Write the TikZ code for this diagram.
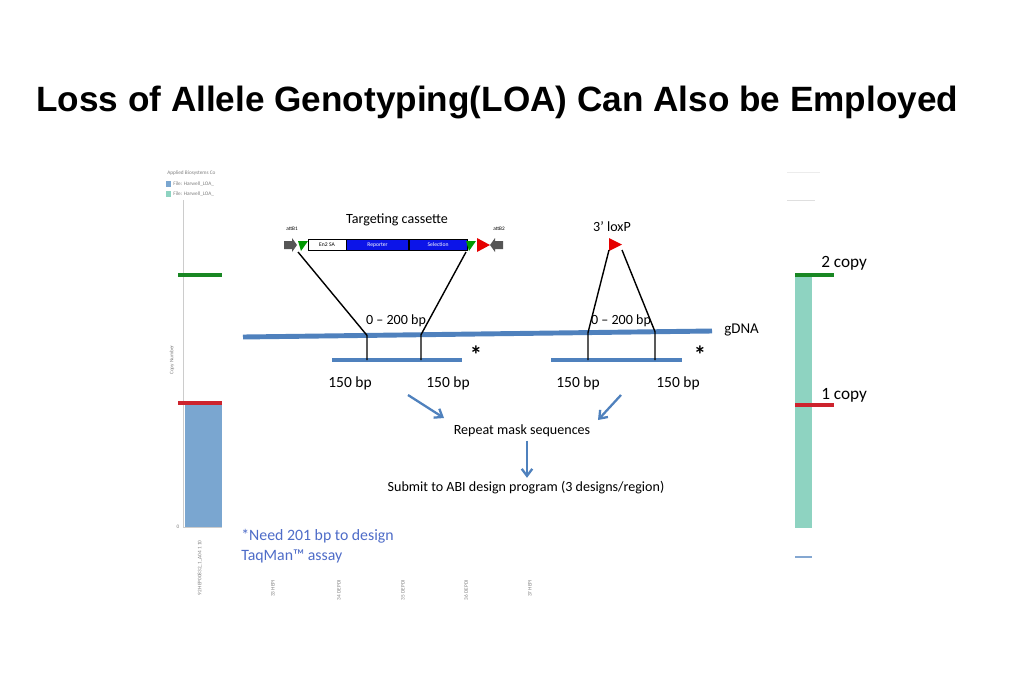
\documentclass[tikz,border=0pt]{standalone}
\usepackage{fontspec}
\setmainfont{Carlito}
\newfontfamily\titlefont{Liberation Sans}
\usetikzlibrary{arrows.meta}
\definecolor{dnablue}{RGB}{79,129,189}
\definecolor{cnvgreen}{RGB}{25,135,35}
\definecolor{cnvred}{RGB}{205,35,45}
\definecolor{barblue}{RGB}{122,166,208}
\definecolor{barteal}{RGB}{142,211,193}
\definecolor{noteblue}{RGB}{78,108,200}
\definecolor{cassblue}{RGB}{12,20,232}
\definecolor{attgray}{RGB}{85,85,85}

\begin{document}
\begin{tikzpicture}[x=0.2mm,y=-0.2mm,
  dna/.style={dnablue,line width=2.8pt},
  probe/.style={dnablue,line width=2.3pt},
  link/.style={black,line width=0.8pt},
  flow/.style={dnablue,line width=1.3pt,-{Straight Barb[length=4pt,width=6pt]}},
  lbl/.style={font=\fontsize{8}{9}\selectfont,inner sep=0pt},
  bplbl/.style={font=\fontsize{8.8}{10}\selectfont,inner sep=0pt},
  tiny/.style={font=\fontsize{3}{3.5}\selectfont,text=gray,inner sep=0pt},
  cassbox/.style={draw=black,line width=0.3pt,minimum height=2.2mm,inner sep=0pt,font=\fontsize{3.2}{3.5}\selectfont},
  copylbl/.style={font=\fontsize{9.8}{11}\selectfont,anchor=west,inner sep=0pt},
  notelbl/.style={anchor=west,inner sep=0pt,text=noteblue,font=\fontsize{9}{11}\selectfont}]
  \useasboundingbox[fill=white] (0,0) rectangle (1023,682);

  \node[anchor=west,inner sep=0pt,font=\titlefont\bfseries\fontsize{20}{24}\selectfont] (title) at (36,102)
    {Loss of Allele Genotyping(LOA) Can Also be Employed};

  % copy number chart behind the figure
  \node[tiny,anchor=west] (hdr) at (167,173) {Applied Biosystems Co};
  \fill[barblue] (166,181) rectangle (171,187);
  \fill[barteal] (166,191) rectangle (171,197);
  \node[tiny,anchor=west] (file1) at (173,184) {File: Harwell\_LOA\_};
  \node[tiny,anchor=west] (file2) at (173,194) {File: Harwell\_LOA\_};
  \draw[gray!40,line width=0.3pt] (183,200) -- (183,527) -- (222,527);
  \fill[barblue] (185,405) rectangle (222,527);
  \draw[cnvgreen,line width=2pt] (178,275) -- (222,275);
  \draw[cnvred,line width=2pt] (178,403) -- (222,403);
  \node[tiny] (zero) at (178,527) {0};
  \node[tiny,rotate=90] (ylab) at (172,360) {Copy Number};
  \node[tiny,rotate=90,anchor=east] (s92) at (200,540) {92 HEP00832\_1\_A04 1 10};
  \foreach \x/\t in {273/33 HEPI,339/34 DEPDI,403/35 DEPDI,466/36 DEPDI,530/37 HEPI}
    \node[tiny,rotate=90,anchor=east] at (\x,580) {\t};

  \fill[barteal] (795,277) rectangle (812,528);
  \draw[cnvgreen,line width=2pt] (795,275) -- (834,275);
  \draw[cnvred,line width=2pt] (795,405) -- (834,405);
  \draw[dnablue!70,line width=1pt] (795,557) -- (812,557);
  \draw[gray!15,line width=0.5pt] (787,172) -- (820,172);
  \draw[gray!25,line width=0.5pt] (787,200) -- (815,200);
  \node[copylbl] (two) at (821,263) {2 copy};
  \node[copylbl] (one) at (821,395) {1 copy};

  % targeting cassette
  \node[lbl] (cassette) at (397,220) {Targeting cassette};
  \node[tiny,text=black] (attb1) at (292,229) {attB1};
  \node[tiny,text=black] (attb2) at (499,229) {attB2};
  \fill[attgray] (284,241) rectangle (292,249) (292,238) -- (297,245) -- (292,252) -- cycle;
  \fill[green!60!black] (298,241) -- (308,241) -- (301,251) -- cycle;
  \node[cassbox,fill=white,minimum width=7.6mm] (en2) at (327,245) {En2 SA};
  \node[cassbox,fill=cassblue,text=white,minimum width=12.4mm,anchor=west] (rep) at (en2.east) {Reporter};
  \node[cassbox,fill=cassblue,text=white,minimum width=11.6mm,anchor=west] (sel) at (rep.east) {Selection};
  \fill[green!60!black] (466,241) -- (476,241) -- (469,251) -- cycle;
  \fill[red!90!black] (477,238) -- (490,245) -- (477,252) -- cycle;
  \fill[attgray] (495,241) rectangle (503,249) (495,238) -- (490,245) -- (495,252) -- cycle;

  % 3' loxP
  \node[lbl] (loxlbl) at (612,227) {3’ loxP};
  \fill[red!90!black] (609,238) -- (622,244.5) -- (609,251) -- cycle;

  % gDNA and flanking probes
  \coordinate (gw) at (243,337);
  \coordinate (ge) at (712,331);
  \draw[dna] (gw) -- (ge);
  \node[lbl,anchor=west,font=\fontsize{8.5}{10}\selectfont] (gdna) at (724,330) {gDNA};
  \draw[probe] (332,360) -- (462,360);
  \draw[probe] (551,360) -- (682,360);

  \coordinate (c1) at (298,252);
  \coordinate (c2) at (466,252);
  \coordinate (l1) at (609,250);
  \coordinate (l2) at (622,250);
  \coordinate (g1) at (367,335.4);
  \coordinate (g2) at (421,334.7);
  \coordinate (g3) at (588,332.6);
  \coordinate (g4) at (655,331.7);
  \coordinate (p1) at (367,360);
  \coordinate (p2) at (421,360);
  \coordinate (p3) at (588,360);
  \coordinate (p4) at (655,360);
  \draw[link] (c1) -- (g1) -- (p1);
  \draw[link] (c2) -- (g2) -- (p2);
  \draw[link] (l1) -- (g3) -- (p3);
  \draw[link] (l2) -- (g4) -- (p4);

  \node[lbl] (gap1) at (396,321) {0 – 200 bp};
  \node[lbl] (gap2) at (621,321) {0 – 200 bp};
  \node[inner sep=0pt,font=\bfseries\fontsize{14}{14}\selectfont] (star1) at (476,355) {*};
  \node[inner sep=0pt,font=\bfseries\fontsize{14}{14}\selectfont] (star2) at (700,355) {*};
  \node[bplbl] (bp1) at (350,383) {150 bp};
  \node[bplbl] (bp2) at (448,383) {150 bp};
  \node[bplbl] (bp3) at (578,383) {150 bp};
  \node[bplbl] (bp4) at (678,383) {150 bp};

  % design steps
  \node[lbl] (mask) at (522,431) {Repeat mask sequences};
  \node[lbl] (submit) at (526,488) {Submit to ABI design program (3 designs/region)};
  \coordinate (a1) at (408,395);
  \coordinate (a2) at (444,418);
  \coordinate (a3) at (621,395);
  \coordinate (a4) at (598,420);
  \draw[flow] (a1) -- (a2);
  \draw[flow] (a3) -- (a4);
  \draw[flow,shorten <=2pt,shorten >=2pt] (mask.south -| 527,0) -- (submit.north -| 527,0);

  \node[notelbl] (note1) at (241,536) {*Need 201 bp to design};
  \node[notelbl] (note2) at (241,556) {TaqMan™ assay};
\end{tikzpicture}
\end{document}
